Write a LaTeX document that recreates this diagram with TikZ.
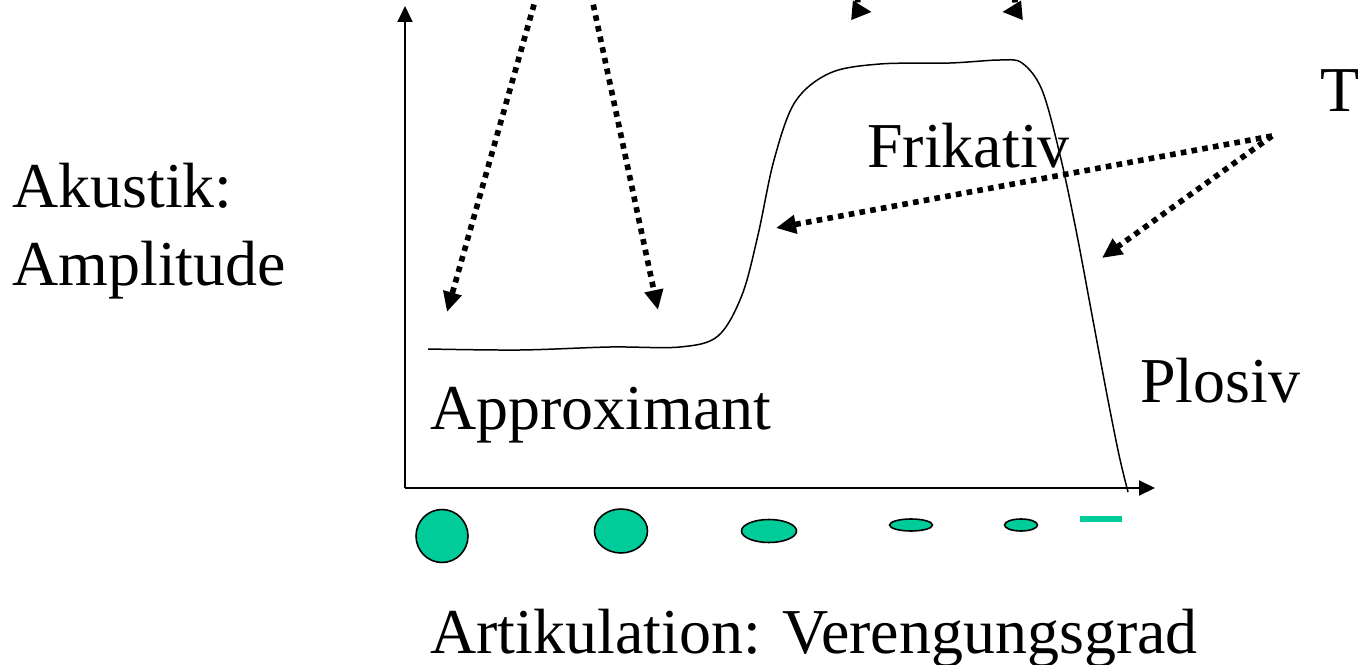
\documentclass[tikz,border=0pt]{standalone}
\usepackage{fontspec}
\setmainfont{Liberation Serif}
\usepackage{tikz}
\usetikzlibrary{arrows.meta,shapes.geometric}
\definecolor{engfill}{HTML}{00CC99}

\begin{document}
\begin{tikzpicture}[
  x=0.02cm, y=-0.02cm,
  font=\fontsize{36.4}{44.4}\selectfont,
  txt/.style={anchor=base west, inner sep=0pt, align=left},
  achse/.style={-{Triangle[length=0.32cm, width=0.3cm]}, line width=1.1pt},
  kurve/.style={line width=0.85pt},
  zeig/.style={-{Triangle[length=0.4cm, width=0.36cm]}, line width=3.2pt, dash pattern=on 3.2pt off 3pt},
  oeff/.style={ellipse, draw, fill=engfill, line width=0.9pt, inner sep=0pt}
]
  \clip (0,0) rectangle (1359,665);

  % Achsen
  \coordinate (ursp) at (405,488);
  \coordinate (yend) at (405,6);
  \coordinate (xend) at (1155,488);
  \draw[achse] (ursp) -- (yend);
  \draw[achse] (ursp) -- (xend);

  % Amplitudenverlauf
  \draw[kurve] plot[smooth, tension=0.55] coordinates {
    (428,349) (520,350) (610,347) (680,347) (718,336) (742,295) (758,235)
    (774,160) (795,102) (830,73) (880,64) (950,63) (1000,60) (1022,63)
    (1042,90) (1060,155) (1076,230) (1092,315) (1107,395) (1119,455) (1128,492)};

  % Beschriftungen
  \node[txt] (akus) at (12,286) {Akustik:\\Amplitude};
  \node[txt] (frik) at (867,168) {Frikativ};
  \node[txt] (plos) at (1140,402) {Plosiv};
  \node[txt] (appr) at (430,430) {Approximant};
  \node[txt] (tur)  at (1320,112) {T};
  \node[txt] (arti) at (430,653) {Artikulation: Verengungsgrad};

  % Zeiger
  \coordinate (q1) at (537,-6);
  \coordinate (z1) at (447,312);
  \coordinate (q2) at (591,-6);
  \coordinate (z2) at (658,310);
  \coordinate (q3) at (857,-14);
  \coordinate (z3) at (872,12);
  \coordinate (q4) at (1015,-14);
  \coordinate (z4) at (1002,12);
  \coordinate (tq) at (1272,136);
  \coordinate (zf) at (776,228);
  \coordinate (zp) at (1102,258);
  \draw[zeig] (q1) -- (z1);
  \draw[zeig] (q2) -- (z2);
  \draw[zeig] (q3) to[out=-90, in=175] (z3);
  \draw[zeig] (q4) to[out=-90, in=5] (z4);
  \draw[zeig] (tq) -- (zf);
  \draw[zeig] (tq) -- (zp);

  % Verengungsgrad
  \node[oeff, minimum width=1.04cm, minimum height=1.06cm] (o1) at (442,536) {};
  \node[oeff, minimum width=1.06cm, minimum height=0.88cm] (o2) at (621,531) {};
  \node[oeff, minimum width=1.1cm, minimum height=0.46cm] (o3) at (769,531) {};
  \node[oeff, minimum width=0.86cm, minimum height=0.24cm] (o4) at (911,525) {};
  \node[oeff, minimum width=0.66cm, minimum height=0.24cm] (o5) at (1021,525) {};
  \node[fill=engfill, inner sep=0pt, minimum width=0.84cm, minimum height=0.11cm] (o6) at (1101,519) {};
\end{tikzpicture}
\end{document}
